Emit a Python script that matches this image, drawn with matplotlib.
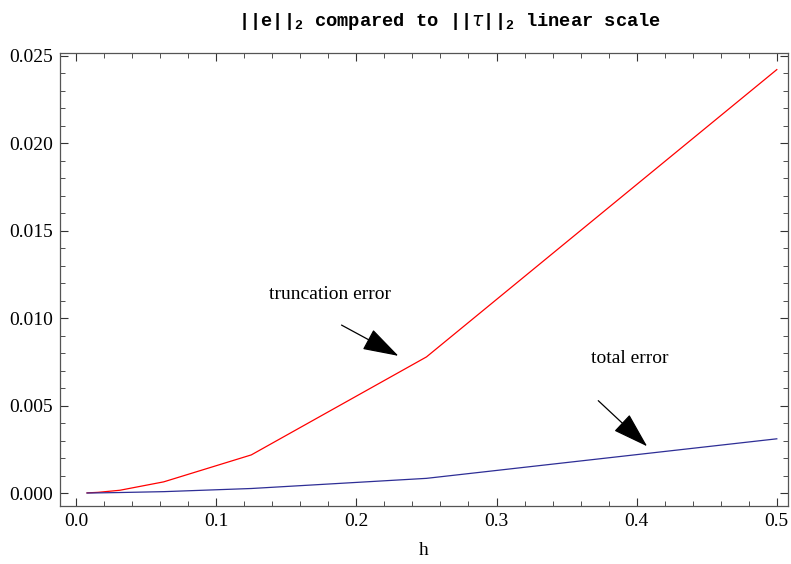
import matplotlib
matplotlib.use("Agg")
import matplotlib.pyplot as plt
from matplotlib.ticker import MultipleLocator, FormatStrFormatter

# step sizes and the two error norms
h = [1/128, 1/64, 1/32, 1/16, 1/8, 1/4, 1/2]
trunc_err = [0.00001, 0.00004, 0.00016, 0.00064, 0.00218, 0.00778, 0.02420]
total_err = [0.000002, 0.00001, 0.00003, 0.00008, 0.00026, 0.00084, 0.00310]

plt.rcParams["font.family"] = ["Liberation Serif", "DejaVu Serif"]

fig = plt.figure(figsize=(7.91, 5.64), dpi=100)
ax = fig.add_axes([60 / 791, 1 - 506 / 564, 728 / 791, 453 / 564])

ax.plot(h, trunc_err, color="#ff0000", lw=0.9)
ax.plot(h, total_err, color="#2e2e96", lw=0.9)

ax.set_xlim(-0.0115, 0.508)
ax.set_ylim(-0.00074, 0.02515)

ax.xaxis.set_major_locator(MultipleLocator(0.1))
ax.xaxis.set_minor_locator(MultipleLocator(0.02))
ax.yaxis.set_major_locator(MultipleLocator(0.005))
ax.yaxis.set_minor_locator(MultipleLocator(0.001))
ax.xaxis.set_major_formatter(FormatStrFormatter("%.1f"))
ax.yaxis.set_major_formatter(FormatStrFormatter("%.3f"))

ax.tick_params(which="both", direction="in", top=True, right=True,
               labeltop=False, labelright=False, labelsize=14, color="#333333")
ax.tick_params(which="major", length=6, width=0.8, pad=5)
ax.tick_params(which="minor", length=3.5, width=0.6)
for s in ax.spines.values():
    s.set_color("#555555")
    s.set_linewidth(0.9)

ax.set_xlabel("h", fontsize=14, labelpad=9)

fig.text(450 / 791, 1 - 21 / 564,
         r"||e||$\mathregular{_2}$ compared to ||$\tau$||$\mathregular{_2}$ linear scale",
         ha="center", va="center", fontsize=13.5, fontweight="bold",
         family=["Liberation Mono", "DejaVu Sans Mono"])

arrow_style = "-|>,head_length=1.9,head_width=0.6"
ax.annotate("truncation error", xy=(0.230, 0.00784), xytext=(0.1815, 0.01136),
            ha="center", va="center", fontsize=14)
ax.annotate("", xy=(0.230, 0.00784), xytext=(0.1894, 0.0096),
            arrowprops=dict(arrowstyle=arrow_style, color="black", lw=0.9,
                            mutation_scale=12, shrinkA=0, shrinkB=0))
ax.annotate("total error", xy=(0.4075, 0.00267), xytext=(0.3953, 0.00767),
            ha="center", va="center", fontsize=14)
ax.annotate("", xy=(0.4075, 0.00267), xytext=(0.3726, 0.00528),
            arrowprops=dict(arrowstyle=arrow_style, color="black", lw=0.9,
                            mutation_scale=12, shrinkA=0, shrinkB=0))

fig.savefig("out.png", dpi=100)
